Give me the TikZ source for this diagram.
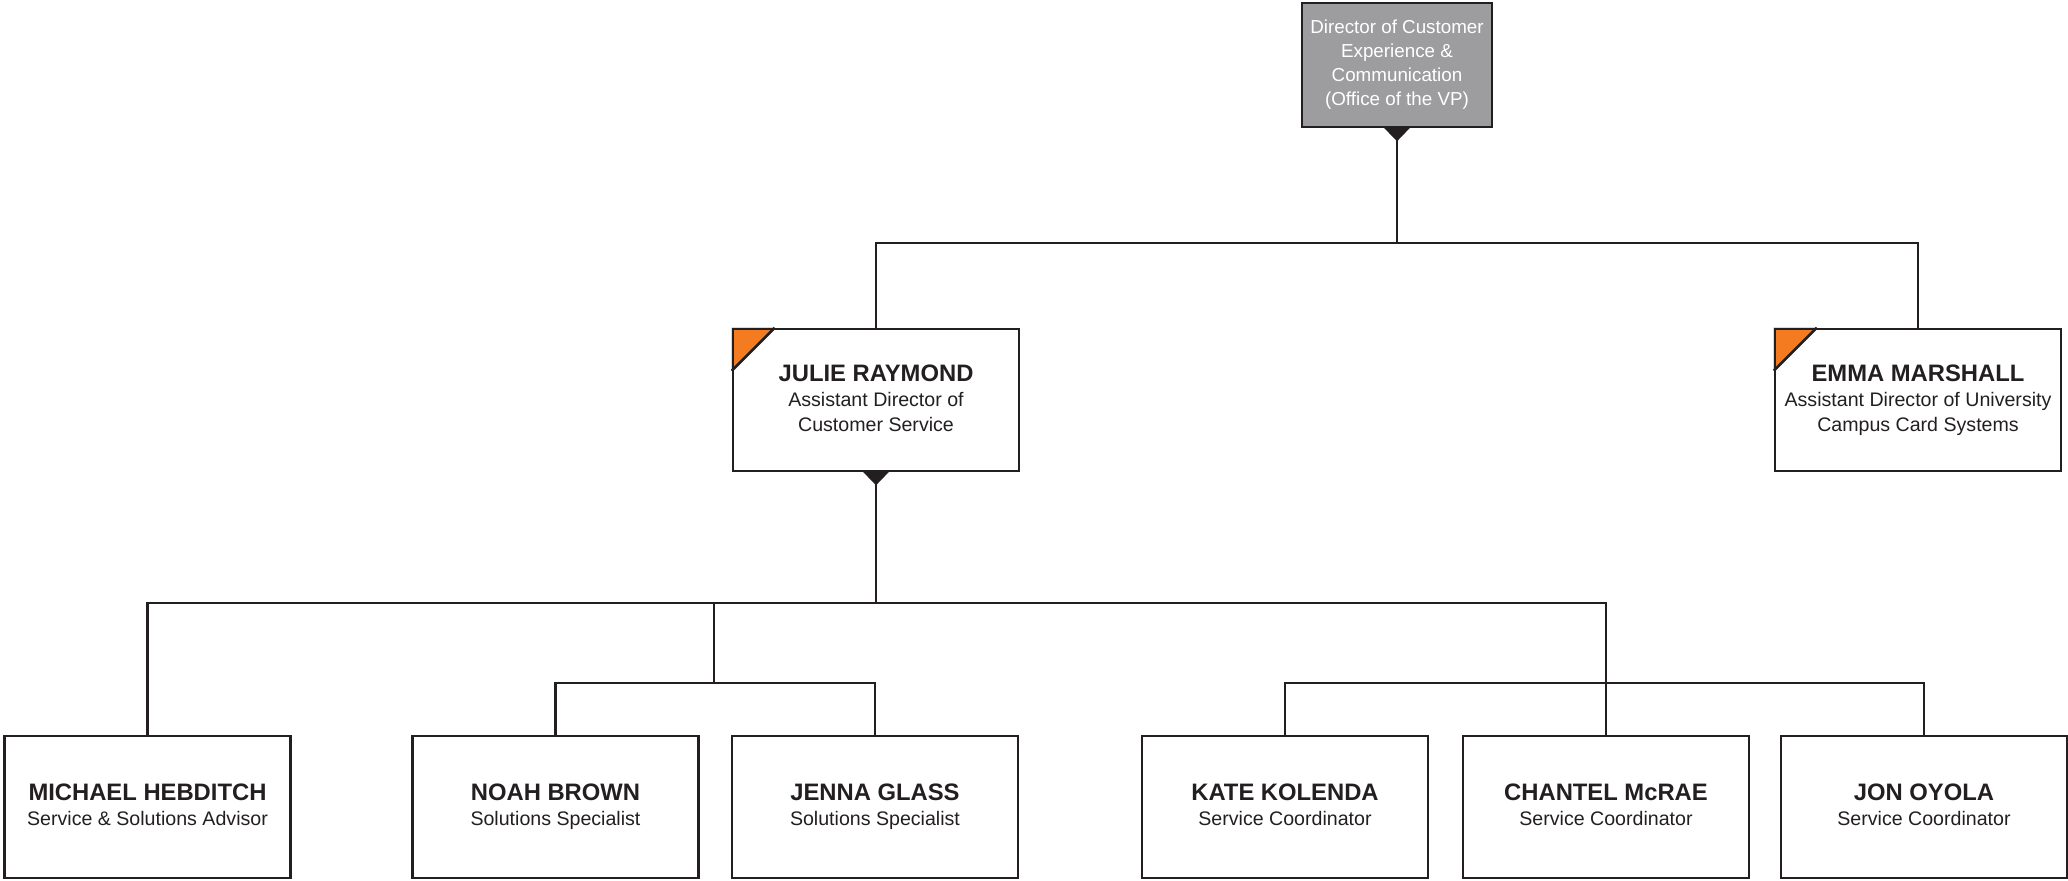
\documentclass[tikz,border=0pt]{standalone}
\usepackage{fontspec}
\setmainfont{Liberation Sans}
\usetikzlibrary{calc}
\pgfdeclarelayer{background}
\pgfsetlayers{background,main}
\definecolor{ink}{HTML}{231F20}
\definecolor{boxgray}{HTML}{9D9D9F}
\definecolor{corner}{HTML}{F47B20}
\newcommand{\pname}[1]{{\fontsize{11.9}{12.5}\selectfont\bfseries #1}}
\tikzset{
  line/.style={draw=ink, line width=1.3pt},
  person/.style={draw=ink, line width=1.3pt, minimum width=143pt, minimum height=71pt,
    inner sep=0pt, align=center, text=ink, font=\fontsize{9.8}{12.5}\selectfont,
    execute at end node={\vphantom{gy}}},
  topbox/.style={draw=ink, line width=1.3pt, fill=boxgray, minimum width=95pt, minimum height=62pt,
    inner sep=0pt, align=center, text=white, font=\fontsize{9.4}{12}\selectfont},
  notch/.style={fill=ink},
  flag/.style={fill=corner}
}
\begin{document}
\begin{tikzpicture}[x=0.5pt,y=-0.5pt]
\useasboundingbox (0,0) rectangle (2068,880);
% nodes
\node[topbox] (top) at (1397,65) {Director of Customer\\Experience \&\\Communication\\(Office of the VP)};
\node[person] (julie) at (876,400) {\pname{JULIE RAYMOND}\\Assistant Director of\\Customer Service};
\node[person] (emma) at (1918,400) {\pname{EMMA MARSHALL}\\Assistant Director of University\\Campus Card Systems};
\node[person] (michael) at (147.5,807) {\pname{MICHAEL HEBDITCH}\\Service \& Solutions Advisor};
\node[person] (noah) at (555.5,807) {\pname{NOAH BROWN}\\Solutions Specialist};
\node[person] (jenna) at (875,807) {\pname{JENNA GLASS}\\Solutions Specialist};
\node[person] (kate) at (1285,807) {\pname{KATE KOLENDA}\\Service Coordinator};
\node[person] (chantel) at (1606,807) {\pname{CHANTEL McRAE}\\Service Coordinator};
\node[person] (jon) at (1924,807) {\pname{JON OYOLA}\\Service Coordinator};
% bus points
\coordinate (bus1) at (1397,243);
\coordinate (bus2) at (876,603);
\coordinate (subA) at (714,683);
\coordinate (subB) at (1606,683);
% connectors
\draw[line] (top.south) -- (bus1);
\draw[line] (julie.north) |- (bus1) -| (emma.north);
\draw[line] (julie.south) -- (bus2);
\draw[line] (michael.north) |- (bus2) -| (chantel.north);
\draw[line] (subA |- bus2) -- (subA);
\draw[line] (noah.north) |- (subA) -| (jenna.north);
\draw[line] (kate.north) |- (subB) -| (jon.north);
% notches
\fill[notch] ($(top.south)+(-13.5,-1)$) -- ($(top.south)+(13.5,-1)$) -- ($(top.south)+(0,13)$) -- cycle;
\fill[notch] ($(julie.south)+(-13.5,-1)$) -- ($(julie.south)+(13.5,-1)$) -- ($(julie.south)+(0,13)$) -- cycle;
% orange corner flags
\begin{pgfonlayer}{background}
\foreach \n in {julie,emma}{
  \fill[flag] (\n.north west) -- ++(43,0) -- ++(-43,43) -- cycle;
  \draw[line] ($(\n.north west)+(43,0)$) -- ($(\n.north west)+(0,43)$);
}
\end{pgfonlayer}
\end{tikzpicture}
\end{document}
